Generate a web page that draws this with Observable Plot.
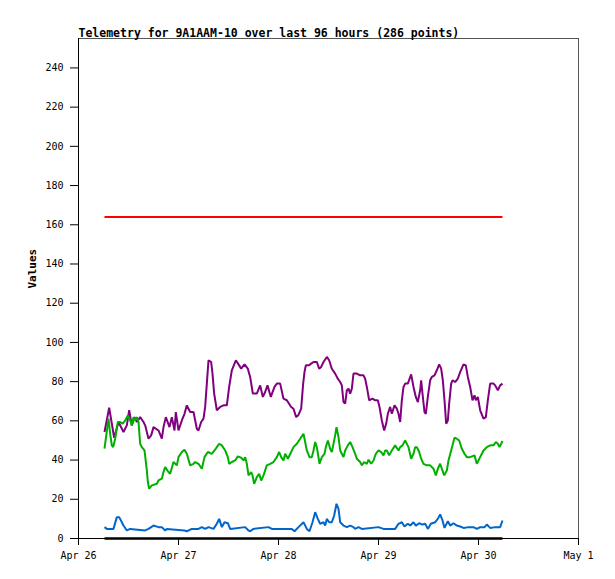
<!DOCTYPE html>
<html>
<head>
<meta charset="utf-8">
<script src="https://cdn.jsdelivr.net/npm/d3@7"></script>
<script src="https://cdn.jsdelivr.net/npm/@observablehq/plot@0.6"></script>
<style>
  html, body { margin: 0; padding: 0; background: #fff; }
  #chart svg { display: block; }
</style>
</head>
<body>
<div id="chart"></div>
<script>
// ---- data: [hours since Apr 26 00:00, value] ----
const titleText = "Telemetry for 9A1AAM-10 over last 96 hours (286 points)";
const yLabel = "Values";
const yTicks = [0, 20, 40, 60, 80, 100, 120, 140, 160, 180, 200, 220, 240];
const dayTicks = ["2024-04-26", "2024-04-27", "2024-04-28", "2024-04-29", "2024-04-30", "2024-05-01"];

const purple = [
[6.24,54.3],[7.36,66.7],[8.56,51.4],[9.6,59.4],[10.8,54.3],[11.6,57.7],[12.16,65.4],[12.8,57.7],[13.44,61.9],[14.0,59.4],[14.8,61.9],[15.6,59.4],[16.0,57.7],[16.8,50.9],[17.44,52.6],[18.0,56.8],[19.2,55.1],[20.0,50.9],[20.4,56.8],[20.96,61.9],[21.84,56.8],[22.4,61.9],[23.04,55.1],[23.36,64.5],[24.0,55.1],[24.8,60.2],[25.44,63.6],[26.0,67.9],[26.8,64.5],[27.6,64.5],[28.4,56.0],[28.8,55.1],[29.44,59.4],[30.0,61.1],[30.4,67.1],[30.8,79.0],[31.2,90.9],[31.84,90.0],[32.16,84.1],[32.56,73.9],[33.2,65.4],[34.0,67.1],[34.8,67.9],[35.6,67.9],[36.16,77.3],[36.8,85.8],[37.76,90.9],[38.56,88.3],[39.04,86.6],[39.84,88.8],[40.64,86.6],[41.2,82.4],[41.84,73.9],[42.8,73.9],[43.6,78.1],[44.24,72.2],[44.8,74.7],[45.36,78.1],[46.16,72.2],[47.04,77.3],[47.6,79.0],[48.4,79.0],[49.2,71.3],[50.0,70.5],[51.04,67.1],[51.6,66.2],[52.24,61.9],[52.8,63.0],[53.44,66.2],[53.92,79.0],[54.24,84.9],[54.56,88.3],[55.36,88.3],[55.84,89.2],[56.4,90.0],[57.2,90.0],[57.76,86.6],[58.24,87.5],[58.8,90.0],[59.6,92.6],[60.16,90.9],[60.8,86.6],[61.6,84.1],[62.24,81.5],[62.8,79.8],[63.2,78.1],[63.6,69.6],[64.0,68.8],[64.4,75.6],[64.8,76.4],[65.2,73.9],[65.6,76.4],[66.0,84.1],[66.8,84.1],[67.6,83.2],[68.4,83.2],[68.8,81.5],[69.2,77.3],[69.76,70.5],[70.56,71.3],[71.2,70.5],[71.84,70.5],[72.24,67.1],[72.8,60.2],[73.36,55.1],[73.84,58.5],[74.24,63.6],[74.8,67.1],[75.2,63.6],[75.84,67.9],[76.4,66.2],[76.8,63.6],[77.2,59.4],[77.6,70.5],[78.0,77.3],[78.4,79.0],[79.04,79.0],[79.84,83.7],[80.4,77.3],[80.96,72.2],[81.44,69.6],[82.0,75.6],[82.24,80.7],[82.56,73.9],[83.04,64.5],[83.36,63.6],[83.84,72.2],[84.4,80.7],[84.8,82.4],[85.44,83.2],[86.0,85.8],[86.56,88.8],[87.04,86.6],[87.44,80.7],[87.84,70.5],[88.24,58.5],[88.64,60.2],[88.96,68.8],[89.44,79.0],[89.76,80.7],[90.4,79.8],[91.04,81.5],[91.6,84.9],[92.4,88.8],[92.96,88.3],[93.44,82.4],[94.0,77.3],[94.56,70.5],[95.04,73.0],[95.36,70.5],[95.84,72.2],[96.4,65.4],[97.2,61.1],[97.76,61.9],[98.24,70.5],[98.8,79.0],[99.6,79.0],[100.0,78.1],[100.64,75.6],[101.2,78.1],[101.76,79.0]
];

const green = [
[6.24,45.8],[7.2,61.1],[7.6,53.4],[8.0,47.5],[8.32,46.6],[8.8,50.9],[9.44,59.4],[10.0,59.4],[10.56,58.5],[11.2,60.2],[11.84,62.8],[12.4,60.2],[12.8,57.7],[13.2,61.9],[13.6,60.2],[14.0,61.9],[14.4,59.4],[14.8,48.3],[15.2,46.6],[15.84,44.9],[16.4,34.7],[16.64,28.8],[16.96,25.4],[17.6,27.1],[18.8,27.9],[19.2,29.6],[20.0,30.5],[20.4,33.9],[20.8,36.4],[21.6,33.9],[22.0,33.0],[22.8,39.0],[23.6,37.3],[24.0,41.5],[24.8,44.1],[25.44,45.3],[26.0,43.2],[26.8,37.3],[27.6,38.1],[28.0,39.0],[28.8,38.1],[29.6,35.6],[30.24,41.5],[31.04,44.1],[32.0,43.2],[32.64,44.9],[33.2,46.6],[33.76,48.3],[34.4,47.5],[35.2,44.9],[35.84,41.5],[36.16,38.1],[36.8,39.0],[37.6,39.8],[38.24,41.9],[39.04,41.2],[39.6,39.8],[40.0,41.5],[40.4,38.1],[40.8,32.2],[41.44,33.9],[41.76,32.2],[42.16,27.9],[42.8,31.3],[43.36,33.0],[43.84,29.6],[44.4,32.2],[45.2,37.3],[46.0,38.1],[46.8,39.0],[47.6,41.5],[48.16,44.1],[48.64,41.5],[49.2,39.8],[49.6,43.2],[50.24,40.7],[51.04,44.1],[51.6,46.6],[52.4,48.3],[53.2,50.9],[54.0,53.4],[54.4,49.2],[54.8,44.9],[55.44,41.5],[56.0,41.5],[56.4,44.9],[56.8,49.2],[57.2,46.6],[57.6,41.5],[57.84,38.1],[58.4,41.5],[59.04,43.2],[59.36,46.6],[59.84,50.0],[60.4,45.8],[60.8,44.1],[61.2,48.3],[61.6,52.6],[61.92,56.8],[62.4,51.7],[62.8,44.9],[63.2,43.2],[63.6,41.5],[64.0,44.9],[64.64,47.5],[65.2,49.2],[65.76,46.6],[66.24,44.1],[66.8,40.7],[67.6,39.0],[68.0,37.3],[68.56,39.0],[69.2,38.1],[69.6,40.2],[70.24,38.1],[70.8,39.8],[71.36,43.2],[72.0,44.9],[72.64,44.1],[73.2,42.4],[73.6,44.9],[74.0,44.9],[74.56,42.4],[75.2,44.9],[76.0,47.5],[76.8,44.9],[77.2,46.6],[77.76,47.5],[78.4,50.0],[79.2,46.6],[79.84,40.7],[80.4,43.2],[80.8,46.6],[81.2,46.6],[81.76,44.1],[82.24,40.7],[82.8,38.1],[83.6,37.3],[84.4,37.3],[85.2,35.6],[85.76,32.2],[86.24,35.6],[86.8,38.1],[87.2,35.6],[87.76,32.2],[88.4,34.7],[88.8,39.8],[89.44,44.9],[90.24,51.4],[90.8,50.9],[91.36,50.0],[92.0,45.8],[92.64,43.2],[93.2,41.5],[94.0,41.5],[95.04,42.4],[95.6,38.1],[96.4,41.5],[97.2,44.9],[98.0,46.6],[98.8,47.5],[99.6,47.5],[100.16,49.2],[100.64,48.3],[101.04,46.6],[101.44,48.3],[101.76,49.7]
];

const blue = [
[6.24,5.8],[6.8,4.9],[8.4,4.9],[9.2,10.9],[9.76,10.9],[10.8,6.6],[11.6,4.1],[12.4,4.9],[16.0,4.1],[16.8,4.9],[18.0,6.6],[19.2,5.8],[20.0,5.8],[20.8,4.1],[21.2,4.9],[25.44,4.1],[26.0,3.7],[27.2,4.9],[28.8,4.9],[29.6,5.8],[30.4,4.9],[31.2,5.8],[32.4,4.9],[33.2,7.5],[33.76,10.0],[34.4,5.8],[35.04,8.3],[35.84,7.8],[36.4,4.9],[40.0,5.8],[40.8,4.1],[41.2,3.7],[42.0,4.9],[45.6,5.8],[46.4,4.9],[51.2,4.9],[51.84,3.7],[52.8,5.8],[54.0,8.3],[54.8,4.9],[55.44,3.7],[56.16,8.3],[56.8,13.4],[57.44,10.0],[58.0,7.5],[58.8,8.3],[59.2,6.6],[59.6,10.0],[60.16,8.3],[60.8,8.3],[61.36,11.7],[61.92,17.7],[62.4,15.1],[62.8,8.3],[63.6,6.6],[64.4,5.8],[65.2,6.6],[66.0,5.8],[66.4,4.9],[67.2,5.8],[68.0,4.9],[72.0,5.8],[73.2,4.9],[76.0,4.9],[76.8,7.5],[77.6,8.3],[78.24,6.1],[79.04,7.5],[79.6,6.6],[80.4,8.3],[80.96,6.6],[81.76,7.8],[82.56,7.1],[83.2,7.5],[83.84,4.9],[84.56,7.5],[85.6,8.3],[86.24,10.0],[86.8,12.3],[87.36,9.2],[87.84,5.4],[88.64,8.8],[89.2,6.6],[90.0,7.8],[90.8,6.6],[91.6,6.1],[92.4,5.4],[93.6,5.8],[94.8,5.8],[95.6,4.9],[96.4,5.8],[97.44,5.8],[98.0,7.1],[98.8,5.4],[100.0,5.8],[101.2,5.8],[101.76,9.2]
];

const red = [[6.24,164.0],[101.76,164.0]];
const black = [[6.24,0],[101.76,0]];

const colors = {purple: "#800080", green: "#00b000", blue: "#0066cc", red: "#ff0000", black: "#000000"};

// ---- helpers ----
const base = Date.UTC(2024, 3, 26);
const toRows = (arr) => arr.map(([h, v]) => ({t: new Date(base + h * 3600e3), v}));
const xDomain = [new Date(dayTicks[0] + "T00:00Z"), new Date(dayTicks[dayTicks.length - 1] + "T00:00Z")];
const xTickDates = dayTicks.map(d => new Date(d + "T00:00Z"));

const font = "'DejaVu Sans Mono', 'Liberation Mono', monospace";

const line = (arr, color, w) => Plot.line(toRows(arr), {x: "t", y: "v", stroke: color, strokeWidth: w, strokeLinejoin: "miter", strokeLinecap: "butt"});

const chart = Plot.plot({
  width: 615,
  height: 579,
  marginTop: 38,
  marginLeft: 78,
  marginRight: 37,
  marginBottom: 41,
  style: {fontFamily: font, fontSize: "10px", background: "#fff", color: "#000"},
  x: {type: "utc", domain: xDomain},
  y: {domain: [0, 255]},
  marks: [
    Plot.frame({stroke: "#555", shapeRendering: "crispEdges"}),
    Plot.axisX({ticks: xTickDates, tickFormat: d3.utcFormat("%b %-d"), tickSize: 7, tickPadding: 6, label: null, stroke: "#000", strokeWidth: 1, fontSize: 10}),
    Plot.axisY({ticks: yTicks, tickSize: 8, tickPadding: 7, label: null, stroke: "#000", strokeWidth: 1, fontSize: 10}),
    Plot.ruleX([xDomain[0]], {stroke: "#000", shapeRendering: "crispEdges"}),
    Plot.ruleY([0], {stroke: "#000", shapeRendering: "crispEdges"}),
    line(red, colors.red, 2),
    line(purple, colors.purple, 2),
    line(green, colors.green, 2),
    line(blue, colors.blue, 2),
    line(black, colors.black, 2.5),
    Plot.text([titleText], {frameAnchor: "top-left", dy: -10, textAnchor: "start", fontWeight: "bold", fontSize: 11.5, fill: "#000"}),
    Plot.text([yLabel], {frameAnchor: "left", dx: -46, rotate: -90, fontWeight: "bold", fontSize: 11, fill: "#000"})
  ]
});

document.getElementById("chart").appendChild(chart);
</script>
</body>
</html>
